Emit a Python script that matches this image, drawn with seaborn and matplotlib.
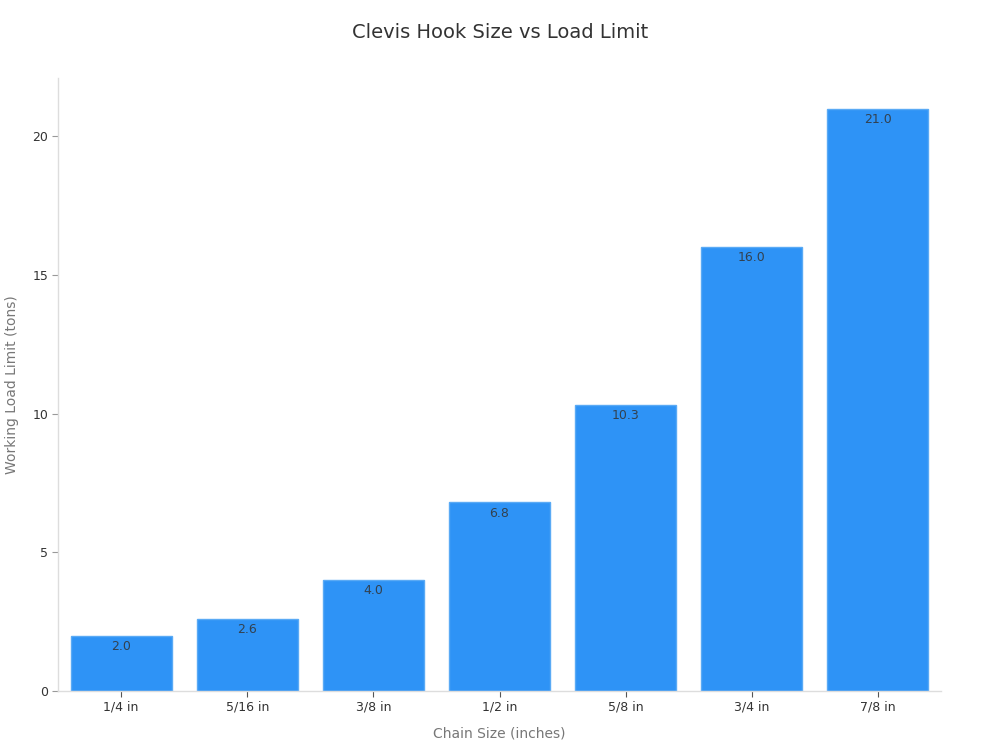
import matplotlib
matplotlib.use("Agg")
import matplotlib.pyplot as plt
import seaborn as sns
import pandas as pd

sizes = ["1/4 in", "5/16 in", "3/8 in", "1/2 in", "5/8 in", "3/4 in", "7/8 in"]
load_limits = [2.0, 2.6, 4.0, 6.8, 10.3, 16.0, 21.0]
yticks = [0, 5, 10, 15, 20]

sns.set_style("white")
plt.rcParams['font.family'] = ['DejaVu Sans']

df = pd.DataFrame({"size": sizes, "load": load_limits})

fig = plt.figure(figsize=(10, 7.5), dpi=100)
ax = fig.add_axes([0.058, 0.0787, 0.883, 0.8173])
sns.barplot(data=df, x="size", y="load", color="#2e93f6", saturation=1,
            width=0.8, edgecolor="#5aaaf5", linewidth=1, ax=ax)

for i, v in enumerate(load_limits):
    ax.text(i, v - 0.15, f"{v:.1f}", ha="center", va="top", fontsize=9, color="#333333", alpha=0.85)

ax.set_xlim(-0.5, 6.5)
ax.set_ylim(0, 22.1)
ax.set_yticks(yticks)
ax.set_yticklabels([str(t) for t in yticks])
ax.tick_params(axis="both", labelsize=9, length=4, width=0.8, pad=3, bottom=True, left=True)
ax.tick_params(axis="x", colors="#555555", labelcolor="#333333")
ax.tick_params(axis="y", colors="#999999", labelcolor="#333333")
for s in ["top", "right"]:
    ax.spines[s].set_visible(False)
for s in ["left", "bottom"]:
    ax.spines[s].set_color("#dddddd")
    ax.spines[s].set_linewidth(1)

ax.set_xlabel("Chain Size (inches)", fontsize=10, color="#777777", labelpad=9)
ax.set_ylabel("Working Load Limit (tons)", fontsize=10, color="#777777", labelpad=10)
fig.suptitle("Clevis Hook Size vs Load Limit", fontsize=14, color="#333333", y=0.97)

fig.savefig("out.png", dpi=100, facecolor="white")
